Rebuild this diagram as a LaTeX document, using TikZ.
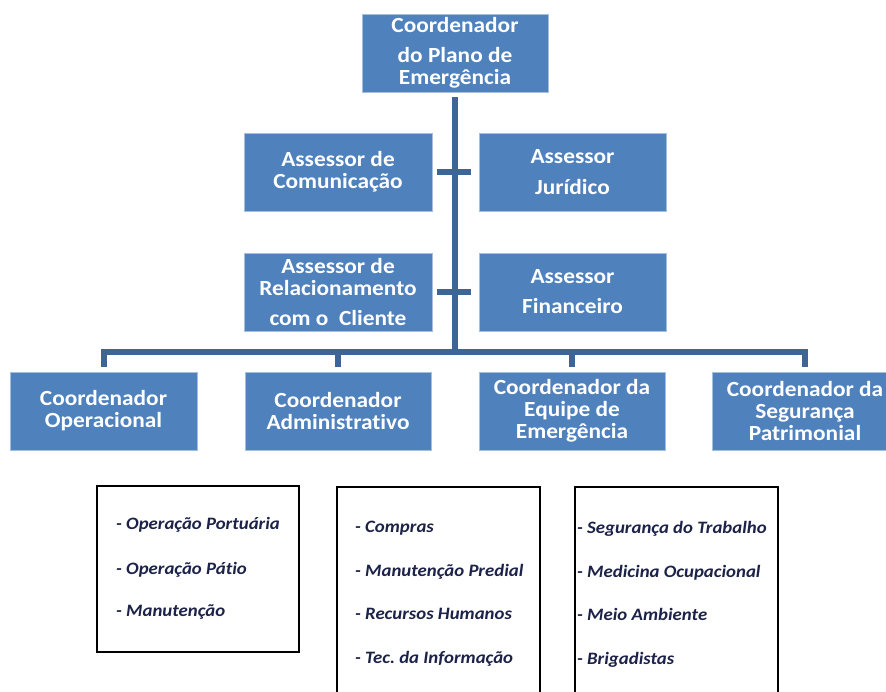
\documentclass[tikz,border=0pt]{standalone}
\usepackage{fontspec}
\setmainfont{Carlito}[FakeStretch=1.08,Ligatures=NoCommon]
\definecolor{boxblue}{HTML}{4F81BD}
\definecolor{boxedge}{HTML}{A7BFDE}
\definecolor{connblue}{HTML}{3D6697}
\definecolor{listtext}{HTML}{1C2248}
\begin{document}
\begin{tikzpicture}[x=1pt,y=-1pt,
  bluebox/.style={fill=boxblue,draw=boxedge,line width=0.8pt,inner sep=0pt,
    minimum height=78pt,align=center,text=white,
    font=\fontsize{21.6}{22}\selectfont\bfseries},
  listbox/.style={draw=black,line width=1.1pt,fill=white,inner sep=0pt},
  listitem/.style={anchor=mid west,inner sep=0pt,text=listtext,
    font=\fontsize{17.4}{20}\selectfont\bfseries\itshape},
  conn/.style={draw=connblue,line width=6pt,line join=miter,line cap=butt}]
\useasboundingbox[fill=white] (0,0) rectangle (886,691);

% top
\node[bluebox,minimum width=186pt] (top) at (455,53)
  {Coordenador\\[8pt]do Plano de\\Emergência};
% assessors
\node[bluebox,minimum width=188pt] (a1) at (338,172) {Assessor de\\Comunicação};
\node[bluebox,minimum width=187pt] (a2) at (572.5,172) {Assessor\\[9pt]Jurídico};
\node[bluebox,minimum width=188pt] (a3) at (338,292)
  {Assessor de\\Relacionamento\\[8pt]com o~~Cliente};
\node[bluebox,minimum width=187pt] (a4) at (572.5,292) {Assessor\\[8pt]Financeiro};
% coordinators
\node[bluebox,minimum width=187pt] (c1) at (103.5,411) {Coordenador\\Operacional};
\node[bluebox,minimum width=186pt] (c2) at (338,411) {Coordenador\\Administrativo};
\node[bluebox,minimum width=186pt] (c3) at (572,411) {Coordenador da\\Equipe de\\Emergência};
\node[bluebox,minimum width=186pt] (c4) at (805,411) {Coordenador da\\Segurança\\Patrimonial};

% connectors
\coordinate (j) at (455,352);
\draw[conn] ([yshift=-5pt]top.south) -- (j);
\draw[conn] ([xshift=5pt]a1.east) -- ([xshift=-8pt]a2.west);
\draw[conn] ([xshift=5pt]a3.east) -- ([xshift=-8pt]a4.west);
\draw[conn] ([yshift=5pt]c1.north) |- (j) -| ([yshift=5pt]c4.north);
\draw[conn] ([yshift=5pt]c2.north) -- (c2.north |- j);
\draw[conn] ([yshift=5pt]c3.north) -- (c3.north |- j);

% list boxes
\node[listbox,minimum width=202pt,minimum height=166pt] (l1) at (198,569) {};
\node[listbox,minimum width=203pt,minimum height=213pt] (l2) at (438.5,593.5) {};
\node[listbox,minimum width=203pt,minimum height=213pt] (l3) at (676.5,593.5) {};

\node[listitem] (l1a) at (116,527) {- Operação Portuária};
\node[listitem] (l1b) at (116,572) {- Operação Pátio};
\node[listitem] (l1c) at (116,614) {- Manutenção};

\node[listitem] (l2a) at (355,530) {- Compras};
\node[listitem] (l2b) at (355,574) {- Manutenção Predial};
\node[listitem] (l2c) at (355,617) {- Recursos Humanos};
\node[listitem] (l2d) at (355,661) {- Tec.\ da Informação};

\node[listitem] (l3a) at (577,531) {- Segurança do Trabalho};
\node[listitem] (l3b) at (577,575) {- Medicina Ocupacional};
\node[listitem] (l3c) at (577,618) {- Meio Ambiente};
\node[listitem] (l3d) at (577,662) {- Brigadistas};
\end{tikzpicture}
\end{document}
